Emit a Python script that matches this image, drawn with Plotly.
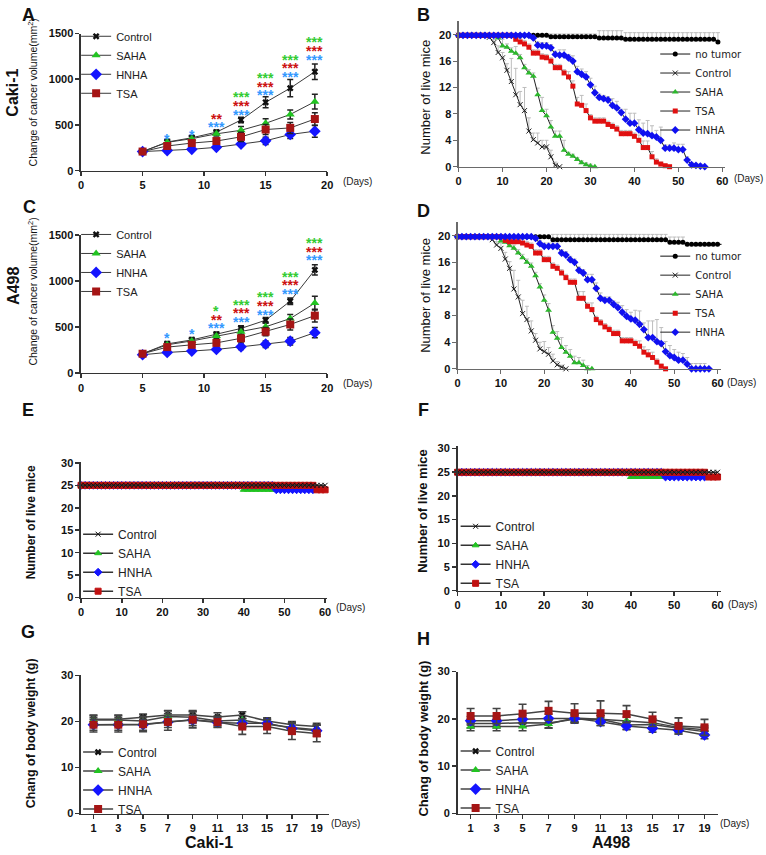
import plotly.graph_objects as go

# ------------------------------------------------------------------
# DATA
# ------------------------------------------------------------------
# Panels A / C : change of cancer volume (mm^2)
vol_days = [5, 7, 9, 11, 13, 15, 17, 19]
caki_vol_control = [209, 313, 360, 421, 554, 748, 903, 1083]
caki_vol_control_err = [20, 30, 25, 25, 30, 60, 95, 85]
caki_vol_saha = [209, 310, 350, 403, 442, 518, 615, 755]
caki_vol_saha_err = [20, 25, 25, 25, 40, 50, 50, 80]
caki_vol_hnha = [209, 220, 234, 255, 291, 327, 396, 432]
caki_vol_hnha_err = [15, 20, 20, 20, 25, 40, 45, 65]
caki_vol_tsa = [209, 270, 302, 324, 370, 450, 468, 565]
caki_vol_tsa_err = [20, 30, 30, 30, 50, 55, 60, 70]

a498_vol_control = [207, 314, 357, 418, 482, 571, 778, 1118]
a498_vol_control_err = [20, 25, 25, 25, 30, 30, 35, 55]
a498_vol_saha = [207, 304, 346, 400, 446, 500, 589, 757]
a498_vol_saha_err = [20, 25, 25, 25, 30, 40, 45, 75]
a498_vol_hnha = [196, 221, 236, 254, 282, 311, 343, 436]
a498_vol_hnha_err = [15, 20, 20, 20, 30, 35, 40, 55]
a498_vol_tsa = [207, 279, 304, 325, 375, 446, 525, 621]
a498_vol_tsa_err = [20, 25, 25, 25, 40, 45, 60, 70]

# significance marks (day, y-level, text, group)
caki_sig_day = [7, 9, 11, 11, 13, 13, 13, 15, 15, 15, 17, 17, 17, 19, 19, 19]
caki_sig_y = [388, 439, 612, 522, 845, 748, 655, 1054, 964, 870, 1259, 1169, 1072, 1450, 1352, 1259]
caki_sig_txt = ["*", "*", "**", "***", "***", "***", "***", "***", "***", "***",
                "***", "***", "***", "***", "***", "***"]
caki_sig_grp = ["HNHA", "HNHA", "TSA", "HNHA", "SAHA", "TSA", "HNHA", "SAHA", "TSA", "HNHA",
                "SAHA", "TSA", "HNHA", "SAHA", "TSA", "HNHA"]
a498_sig_day = [7, 9, 11, 11, 11, 13, 13, 13, 15, 15, 15, 17, 17, 17, 19, 19, 19]
a498_sig_y = [421, 464, 714, 618, 525, 778, 689, 596, 864, 768, 675, 1082, 993, 903, 1453, 1357, 1268]
a498_sig_txt = ["*", "*", "*", "**", "***", "***", "***", "***", "***", "***", "***",
                "***", "***", "***", "***", "***", "***"]
a498_sig_grp = ["HNHA", "HNHA", "SAHA", "TSA", "HNHA", "SAHA", "TSA", "HNHA", "SAHA", "TSA", "HNHA",
                "SAHA", "TSA", "HNHA", "SAHA", "TSA", "HNHA"]

# Panel B : survival, Caki-1
b_notumor_days = list(range(0, 60))
b_notumor = [19.9] * 21 + [19.7] * 11 + [19.5] * 6 + [19.3] * 21 + [18.9]
b_notumor_err = [0] * 21 + [0.4] * 11 + [1.1] * 6 + [1.0] * 21 + [1.4]
b_control_days = list(range(0, 24))
b_control = [19.9] * 7 + [19.6, 18.8, 17.3, 16.5, 14.6, 12.9, 10.9, 9.4, 8.5, 5.4, 4.1,
                          3.6, 3.0, 3.0, 1.5, 0.2, 0.0]
b_control_err = [0] * 7 + [0.3, 0.5, 1.0, 0.8, 1.0, 3.5, 4.0, 2.0, 3.5, 2.0, 1.0,
                           1.5, 1.0, 1.0, 1.0, 0.5, 0.0]
b_saha_days = list(range(0, 32))
b_saha = [19.9] * 9 + [19.5, 18.3, 18.1, 17.5, 17.2, 16.5, 15.0, 14.2, 13.7, 10.9, 8.5, 7.7,
                       6.0, 4.6, 4.6, 2.5, 1.9, 1.6, 1.1, 0.6, 0.3, 0.1, 0.0]
b_saha_err = [0] * 9 + [0.3, 1.0, 0.5, 0.5, 1.0, 0.5, 0.5, 0.5, 0.5, 1.0, 2.0, 1.0,
                        1.0, 0.8, 0.8, 1.5, 0.3, 0.3, 0.3, 0.3, 0.3, 0.3, 0.0]
b_tsa_days = list(range(0, 49))
b_tsa = [19.9] * 13 + [19.3, 18.9, 18.6, 18.1, 17.2, 17.2, 16.6, 16.5, 16.0, 15.0, 15.0, 14.2,
                       13.6, 12.2, 9.5, 9.3, 8.5, 7.4, 6.9, 6.9, 6.9, 6.4, 6.1, 5.7, 5.0, 5.0,
                       5.0, 4.6, 4.0, 2.9, 2.9, 1.5, 0.7, 0.4, 0.15, 0.0]
b_tsa_err = [0] * 13 + [0.3, 0.5, 0.5, 0.5, 0.5, 0.5, 0.5, 0.5, 0.5, 0.5, 0.5, 0.5,
                        0.8, 0.8, 1.0, 1.5, 1.0, 0.5, 0.5, 0.5, 0.5, 0.5, 0.5, 0.5, 0.5, 0.5,
                        0.5, 0.5, 0.8, 1.0, 1.0, 0.8, 0.5, 0.3, 0.2, 0.0]
b_hnha_days = list(range(0, 57))
b_hnha = [19.9] * 17 + [19.5, 18.4, 18.3, 18.3, 18.0, 17.0, 16.9, 16.9, 16.5, 16.0, 14.4, 14.0,
                        13.6, 12.4, 11.2, 10.5, 10.3, 10.1, 9.3, 8.9, 8.2, 7.2, 6.6, 6.6, 5.6,
                        5.1, 5.0, 4.7, 4.5, 4.0, 2.8, 2.8, 2.8, 2.6, 2.6, 1.0, 0.3, 0.2, 0.1, 0.0]
b_hnha_err = [0] * 17 + [0.3, 0.5, 0.5, 0.5, 0.5, 0.5, 0.8, 0.8, 0.5, 0.8, 0.8, 0.8,
                         0.8, 1.0, 1.0, 0.5, 0.5, 0.5, 1.0, 1.0, 0.5, 1.5, 1.5, 1.5, 1.5,
                         1.5, 2.0, 1.5, 1.0, 2.0, 0.5, 0.5, 0.8, 0.8, 0.8, 0.5, 0.3, 0.3, 0.3, 0.0]

# Panel D : survival, A498
d_notumor_days = list(range(0, 62))
d_notumor = [19.85] * 22 + [19.4] * 27 + [19.0] * 4 + [18.7] * 9
d_notumor_err = [0] * 22 + [0.8] * 27 + [0.8] * 4 + [0] * 9
d_control_days = list(range(0, 26))
d_control = [19.85] * 8 + [19.4, 18.6, 18.1, 16.5, 15.1, 12.0, 10.8, 8.3, 7.4, 5.7, 4.3, 3.0,
                           2.6, 2.2, 1.2, 0.6, 0.25, 0.0]
d_control_err = [0] * 8 + [0.3, 0.5, 0.8, 1.0, 1.0, 2.8, 2.5, 2.0, 2.0, 1.5, 1.0, 1.0,
                           1.5, 1.0, 1.0, 0.5, 0.3, 0.0]
d_saha_days = list(range(0, 32))
d_saha = [19.85] * 10 + [19.2, 19.0, 18.5, 18.1, 17.4, 16.7, 16.0, 15.4, 14.0, 12.3, 10.3, 8.8,
                         5.5, 4.6, 3.2, 2.5, 1.9, 0.9, 0.9, 0.5, 0.0, 0.0]
d_saha_err = [0] * 10 + [0.3, 0.5, 0.5, 0.5, 0.5, 0.5, 0.5, 0.5, 0.5, 0.5, 0.8, 1.0,
                         1.0, 1.0, 1.5, 1.0, 1.0, 1.0, 0.8, 0.8, 0.5, 0.0]
d_tsa_days = list(range(0, 49))
d_tsa = [19.85] * 11 + [19.3, 19.1, 19.1, 19.1, 18.9, 18.6, 18.4, 17.4, 17.4, 16.4, 16.4, 15.4,
                        15.1, 14.4, 13.7, 13.0, 13.0, 10.6, 10.6, 9.4, 8.9, 7.4, 6.9, 6.3, 5.9,
                        5.3, 5.3, 4.2, 4.2, 4.2, 3.8, 3.4, 2.5, 2.1, 1.7, 1.0, 0.4, 0.0]
d_tsa_err = [0] * 11 + [0.3, 0.5, 0.5, 0.5, 0.5, 0.5, 0.5, 0.5, 0.5, 0.5, 0.5, 0.5,
                        0.5, 0.5, 0.5, 0.5, 0.5, 1.0, 1.0, 0.5, 1.0, 0.5, 0.5, 0.5, 0.5,
                        0.5, 0.5, 0.5, 0.5, 0.5, 0.5, 0.8, 0.8, 0.8, 0.8, 0.5, 0.3, 0.0]
d_hnha_days = list(range(0, 59))
d_hnha = [19.85] * 18 + [19.6, 18.8, 18.4, 18.4, 18.4, 18.4, 17.4, 17.1, 16.4, 16.0, 14.8, 14.4,
                         13.4, 13.4, 12.1, 10.6, 10.3, 10.3, 9.7, 9.2, 8.5, 7.9, 7.5, 7.3, 6.7,
                         5.9, 4.7, 4.7, 4.1, 3.8, 2.6, 2.0, 1.7, 1.3, 1.3, 0.7, 0.0, 0.0, 0.0,
                         0.0, 0.0]
d_hnha_err = [0] * 18 + [0.3, 0.5, 0.5, 0.5, 0.5, 0.5, 0.5, 0.5, 0.5, 0.5, 0.5, 0.5,
                         0.8, 0.8, 0.8, 0.8, 0.5, 0.5, 0.5, 0.8, 1.0, 1.0, 1.0, 1.5, 2.0,
                         1.0, 2.5, 2.5, 3.3, 2.4, 1.5, 1.5, 1.2, 1.2, 1.0, 1.0, 0.8, 0.8, 0.8,
                         0.8, 0.0]

# Panels E / F : number of live mice (no tumour, drug only)
ef_days_full = list(range(0, 61))
ef_days_57 = list(range(0, 58))
e_control = [25] * 61
e_saha = [25] * 40 + [24] * 18
e_hnha = [25] * 48 + [24] * 10
e_tsa = [25] * 58 + [24] * 3
f_control = [25] * 61
f_saha = [25] * 40 + [24] * 18
f_hnha = [25] * 48 + [24] * 10
f_tsa = [25] * 58 + [24] * 3

# Panels G / H : body weight (g)
bw_days = [1, 3, 5, 7, 9, 11, 13, 15, 17, 19]
g_control = [20.5, 20.5, 20.9, 21.4, 21.4, 21.0, 21.4, 20.1, 19.3, 18.9]
g_control_err = [0.9, 0.9, 0.7, 1.0, 1.0, 0.9, 0.7, 0.7, 0.7, 0.7]
g_saha = [20.3, 20.3, 20.1, 21.1, 20.9, 20.1, 20.3, 19.4, 18.7, 18.2]
g_saha_err = [1.0, 1.0, 1.0, 1.2, 1.2, 1.0, 1.0, 1.0, 1.0, 1.0]
g_hnha = [19.3, 19.3, 19.3, 19.9, 20.3, 19.8, 19.6, 19.6, 18.5, 18.0]
g_hnha_err = [1.2, 1.2, 1.2, 1.2, 1.2, 1.0, 1.0, 1.0, 1.2, 1.2]
g_tsa = [19.3, 19.3, 19.4, 19.9, 20.4, 19.9, 18.9, 18.9, 17.9, 17.4]
g_tsa_err = [1.6, 1.6, 1.6, 1.8, 1.8, 1.2, 1.7, 1.5, 1.8, 1.8]

h_control = [19.0, 19.0, 19.2, 19.1, 19.9, 19.9, 18.7, 18.8, 18.0, 17.3]
h_control_err = [0.9, 0.9, 0.9, 1.0, 0.8, 0.8, 0.9, 0.8, 0.8, 0.8]
h_saha = [18.4, 18.4, 18.4, 18.9, 20.2, 19.9, 19.6, 19.2, 18.2, 17.7]
h_saha_err = [0.9, 0.9, 0.9, 0.9, 0.8, 0.8, 0.8, 0.8, 0.8, 0.8]
h_hnha = [19.6, 19.6, 19.9, 20.1, 20.1, 19.4, 18.5, 18.0, 17.6, 16.6]
h_hnha_err = [0.9, 0.9, 0.9, 0.9, 0.8, 0.8, 0.8, 0.8, 0.8, 0.8]
h_tsa = [20.6, 20.6, 21.1, 21.7, 21.2, 21.2, 21.0, 19.9, 18.5, 18.2]
h_tsa_err = [1.6, 1.6, 2.0, 2.0, 2.0, 2.6, 1.8, 1.5, 1.7, 1.7]

# ------------------------------------------------------------------
# STYLE / LAYOUT HELPERS
# ------------------------------------------------------------------
W, H = 766, 855
FONT = "Liberation Sans"


def fx(p):
    return p / W


def fy(p):
    return 1 - p / H


GREEN = "#22c322"
BLUE = "#1414ff"
RED = "#a51515"
B_GREEN = "#2db82d"
B_RED = "#e01010"
B_BLUE = "#1010f0"
SIG_COL = {"SAHA": "#33cc33", "TSA": "#cc1111", "HNHA": "#3399ff"}

fig = go.Figure()

# panel geometry: id -> (x-left px, x-right px, y-top px, y-bottom px, xrange, yrange, xticks, yticks, style)
panels = {
    1: (79, 328, 28, 167, [0, 20], [0, 1500], [0, 5, 10, 15, 20], [0, 500, 1000, 1500], "dark"),
    2: (461, 731, 15, 163, [0, 60.7], [0, 22.1], [0, 10, 20, 30, 40, 50, 60], [0, 4, 8, 12, 16, 20], "light"),
    3: (79, 328, 232, 372, [0, 20], [0, 1500], [0, 5, 10, 15, 20], [0, 500, 1000, 1500], "dark"),
    4: (460, 727, 219, 368, [0, 60.9], [0, 22.07], [0, 10, 20, 30, 40, 50, 60], [0, 4, 8, 12, 16, 20], "light"),
    5: (79, 328, 462, 600, [0, 60.5], [0, 30.3], [0, 10, 20, 30, 40, 50, 60], [0, 5, 10, 15, 20, 25, 30], "dark"),
    6: (460, 727, 446, 593, [0, 60.9], [0, 30.6], [0, 10, 20, 30, 40, 50, 60], [0, 5, 10, 15, 20, 25, 30], "dark"),
    7: (79, 330, 679, 819, [0, 20], [0, 30], bw_days, [0, 10, 20, 30], "dark"),
    8: (460, 723, 675, 819, [0, 20], [0, 30], bw_days, [0, 10, 20, 30], "dark"),
}

layout_axes = {}
for i, (x0, x1, yt, yb, xr, yr, xt, yt_vals, style) in panels.items():
    sfx = "" if i == 1 else str(i)
    lc = "#333333" if style == "dark" else "#6a6a6a"
    lw = 1.6 if style == "dark" else 1.1
    common = dict(showline=True, linecolor=lc, linewidth=lw, ticks="outside", ticklen=4,
                  tickwidth=lw, tickcolor=lc, showgrid=False, zeroline=False, fixedrange=True,
                  tickfont=dict(family=FONT, size=11, color="#111", weight="bold"))
    layout_axes["xaxis" + sfx] = dict(domain=[fx(x0), fx(x1)], range=xr, tickvals=xt,
                                      anchor="y" + sfx, **common)
    layout_axes["yaxis" + sfx] = dict(domain=[fy(yb), fy(yt)], range=yr, tickvals=yt_vals,
                                      anchor="x" + sfx, **common)


def ax(i):
    return ("x", "y") if i == 1 else ("x" + str(i), "y" + str(i))


def leg(i):
    return "legend" if i == 1 else "legend" + str(i)


# ---------------- volume panels (A, C) ----------------
def vol_panel(i, series):
    xa, ya = ax(i)
    for name, vals, errs, col, sym, size in series:
        fig.add_trace(go.Scatter(
            x=vol_days, y=vals, name=name, mode="lines+markers", xaxis=xa, yaxis=ya,
            legend=leg(i), cliponaxis=False,
            line=dict(color="#3a3a3a", width=1),
            marker=dict(color=col, symbol=sym, size=size, line=dict(width=0)),
            error_y=dict(type="data", array=errs, visible=True, color="#222", thickness=1.5, width=3),
        ))


vol_panel(1, [
    ("Control", caki_vol_control, caki_vol_control_err, "#111", "x", 6),
    ("SAHA", caki_vol_saha, caki_vol_saha_err, GREEN, "triangle-up", 8),
    ("HNHA", caki_vol_hnha, caki_vol_hnha_err, BLUE, "diamond", 9),
    ("TSA", caki_vol_tsa, caki_vol_tsa_err, RED, "square", 8),
])
vol_panel(3, [
    ("Control", a498_vol_control, a498_vol_control_err, "#111", "x", 6),
    ("SAHA", a498_vol_saha, a498_vol_saha_err, GREEN, "triangle-up", 8),
    ("HNHA", a498_vol_hnha, a498_vol_hnha_err, BLUE, "diamond", 9),
    ("TSA", a498_vol_tsa, a498_vol_tsa_err, RED, "square", 8),
])

annotations = []
for i, days, ys, txts, grps in [(1, caki_sig_day, caki_sig_y, caki_sig_txt, caki_sig_grp),
                                 (3, a498_sig_day, a498_sig_y, a498_sig_txt, a498_sig_grp)]:
    xa, ya = ax(i)
    for d, yv, t, g in zip(days, ys, txts, grps):
        annotations.append(dict(x=d, y=yv, xref=xa, yref=ya, text=t, showarrow=False,
                                xanchor="center", yanchor="middle", yshift=-4,
                                font=dict(family=FONT, size=14, color=SIG_COL[g], weight="bold")))


# ---------------- survival panels (B, D) ----------------
def surv_panel(i, series):
    xa, ya = ax(i)
    for name, days, vals, errs, col, sym, size, lcol in series:
        fig.add_trace(go.Scatter(
            x=days, y=vals, name=name, mode="lines+markers", xaxis=xa, yaxis=ya,
            legend=leg(i), cliponaxis=False,
            line=dict(color=lcol, width=1),
            marker=dict(color=col, symbol=sym, size=size, line=dict(width=0, color=col)),
            error_y=dict(type="data", symmetric=False, array=errs, arrayminus=[0] * len(errs),
                         visible=True, color="#bdbdbd", thickness=1, width=2),
        ))


surv_panel(2, [
    ("no tumor", b_notumor_days, b_notumor, b_notumor_err, "#000", "circle", 5, "#111"),
    ("Control", b_control_days, b_control, b_control_err, "#222", "x-thin-open", 5, "#222"),
    ("SAHA", b_saha_days, b_saha, b_saha_err, B_GREEN, "triangle-up", 6, "#222"),
    ("TSA", b_tsa_days, b_tsa, b_tsa_err, B_RED, "square", 5, "#222"),
    ("HNHA", b_hnha_days, b_hnha, b_hnha_err, B_BLUE, "diamond", 6, "#222"),
])
surv_panel(4, [
    ("no tumor", d_notumor_days, d_notumor, d_notumor_err, "#000", "circle", 5, "#111"),
    ("Control", d_control_days, d_control, d_control_err, "#222", "x-thin-open", 5, "#222"),
    ("SAHA", d_saha_days, d_saha, d_saha_err, B_GREEN, "triangle-up", 6, "#222"),
    ("TSA", d_tsa_days, d_tsa, d_tsa_err, B_RED, "square", 5, "#222"),
    ("HNHA", d_hnha_days, d_hnha, d_hnha_err, B_BLUE, "diamond", 6, "#222"),
])


# ---------------- live mice panels (E, F) ----------------
def live_panel(i, control, saha, hnha, tsa):
    xa, ya = ax(i)
    order = [
        ("SAHA", ef_days_57, saha, GREEN, "triangle-up", 6, 2, "#333"),
        ("HNHA", ef_days_57, hnha, BLUE, "diamond", 6, 3, "#333"),
        ("TSA", ef_days_full, tsa, "#c01010", "square", 6, 4, "#333"),
        ("Control", ef_days_full, control, "#111", "x-thin-open", 5, 1, "#333"),
    ]
    for name, days, vals, col, sym, size, rank, lcol in order:
        fig.add_trace(go.Scatter(
            x=days, y=vals, name=name, mode="lines+markers", xaxis=xa, yaxis=ya,
            legend=leg(i), legendrank=rank, cliponaxis=False,
            line=dict(color=lcol, width=1.5),
            marker=dict(color=col, symbol=sym, size=size, line=dict(width=1, color=col)),
        ))


live_panel(5, e_control, e_saha, e_hnha, e_tsa)
live_panel(6, f_control, f_saha, f_hnha, f_tsa)


# ---------------- body weight panels (G, H) ----------------
def bw_panel(i, series):
    xa, ya = ax(i)
    for name, vals, errs, col, sym, size in series:
        fig.add_trace(go.Scatter(
            x=bw_days, y=vals, name=name, mode="lines+markers", xaxis=xa, yaxis=ya,
            legend=leg(i), cliponaxis=False,
            line=dict(color="#444", width=1.5),
            marker=dict(color=col, symbol=sym, size=size, line=dict(width=0)),
            error_y=dict(type="data", array=errs, visible=True, color="#444", thickness=1.6, width=4),
        ))


bw_panel(7, [
    ("Control", g_control, g_control_err, "#111", "x", 6),
    ("SAHA", g_saha, g_saha_err, GREEN, "triangle-up", 8),
    ("HNHA", g_hnha, g_hnha_err, BLUE, "diamond", 9),
    ("TSA", g_tsa, g_tsa_err, RED, "square", 8),
])
bw_panel(8, [
    ("Control", h_control, h_control_err, "#111", "x", 6),
    ("SAHA", h_saha, h_saha_err, GREEN, "triangle-up", 8),
    ("HNHA", h_hnha, h_hnha_err, BLUE, "diamond", 9),
    ("TSA", h_tsa, h_tsa_err, RED, "square", 8),
])

# ---------------- legends ----------------
legend_pos = {1: (74, 16, 11, FONT), 2: (660, 34, 10, "DejaVu Sans"), 3: (74, 217, 11, FONT),
              4: (660, 239, 10, "DejaVu Sans"), 5: (76, 521, 12, FONT), 6: (458, 513, 12, FONT),
              7: (76, 742, 12, FONT), 8: (458, 741, 12, FONT)}
legends = {}
for i, (lx, ly, fs, fam) in legend_pos.items():
    legends[leg(i)] = dict(x=fx(lx), y=fy(ly), xanchor="left", yanchor="top",
                           bgcolor="rgba(0,0,0,0)", borderwidth=0, itemwidth=30,
                           font=dict(family=fam, size=fs, color="#222"),
                           traceorder="normal", itemclick=False, itemdoubleclick=False)


# ---------------- text annotations ----------------
def txt(px, py, text, size, bold=False, angle=0, xanchor="center", color="#111", family=FONT):
    annotations.append(dict(x=fx(px), y=fy(py), xref="paper", yref="paper", text=text,
                            showarrow=False, textangle=angle, xanchor=xanchor, yanchor="middle",
                            font=dict(family=family, size=size, color=color,
                                      weight="bold" if bold else "normal")))


# panel letters
for letter, (px, py) in {"A": (26, 9), "B": (425, 9), "C": (27, 204), "D": (425, 208),
                         "E": (25, 410), "F": (426, 410), "G": (25, 635), "H": (426, 642)}.items():
    txt(px, py, letter, 18, bold=True)

# row labels
txt(10, 88, "Caki-1", 16, bold=True, angle=-90)
txt(10, 284, "A498", 16, bold=True, angle=-90)
txt(208, 848, "Caki-1", 16, bold=True)
txt(615, 848, "A498", 16, bold=True)

# axis titles
txt(30, 88, "Change of cancer volume(mm<sup>2</sup>)", 10.5, angle=-90)
txt(30, 290, "Change of cancer volume(mm<sup>2</sup>)", 10.5, angle=-90)
txt(428, 92, "Number of live mice", 13, angle=-90)
txt(428, 293, "Number of live mice", 13, angle=-90)
txt(28, 524, "Number of live mice", 12, bold=True, angle=-90)
txt(425, 512, "Number of live mice", 13, bold=True, angle=-90)
txt(28, 738, "Chang of body weight (g)", 12.5, bold=True, angle=-90)
txt(426, 743, "Chang of body weight (g)", 13, bold=True, angle=-90)

# "(Days)" labels
for px, py in [(342, 178), (738, 175), (342, 383), (731, 382), (335, 610), (732, 607),
               (330, 829), (724, 829)]:
    txt(px, py, "(Days)", 10, xanchor="left", color="#222")

fig.update_layout(
    width=W, height=H, margin=dict(l=0, r=0, t=0, b=0),
    paper_bgcolor="white", plot_bgcolor="white",
    annotations=annotations, showlegend=True,
    **layout_axes, **legends,
)

fig.write_html("out.html", config={"displayModeBar": False, "staticPlot": True},
               post_script="document.body.style.margin='0';document.body.style.overflow='hidden';")
